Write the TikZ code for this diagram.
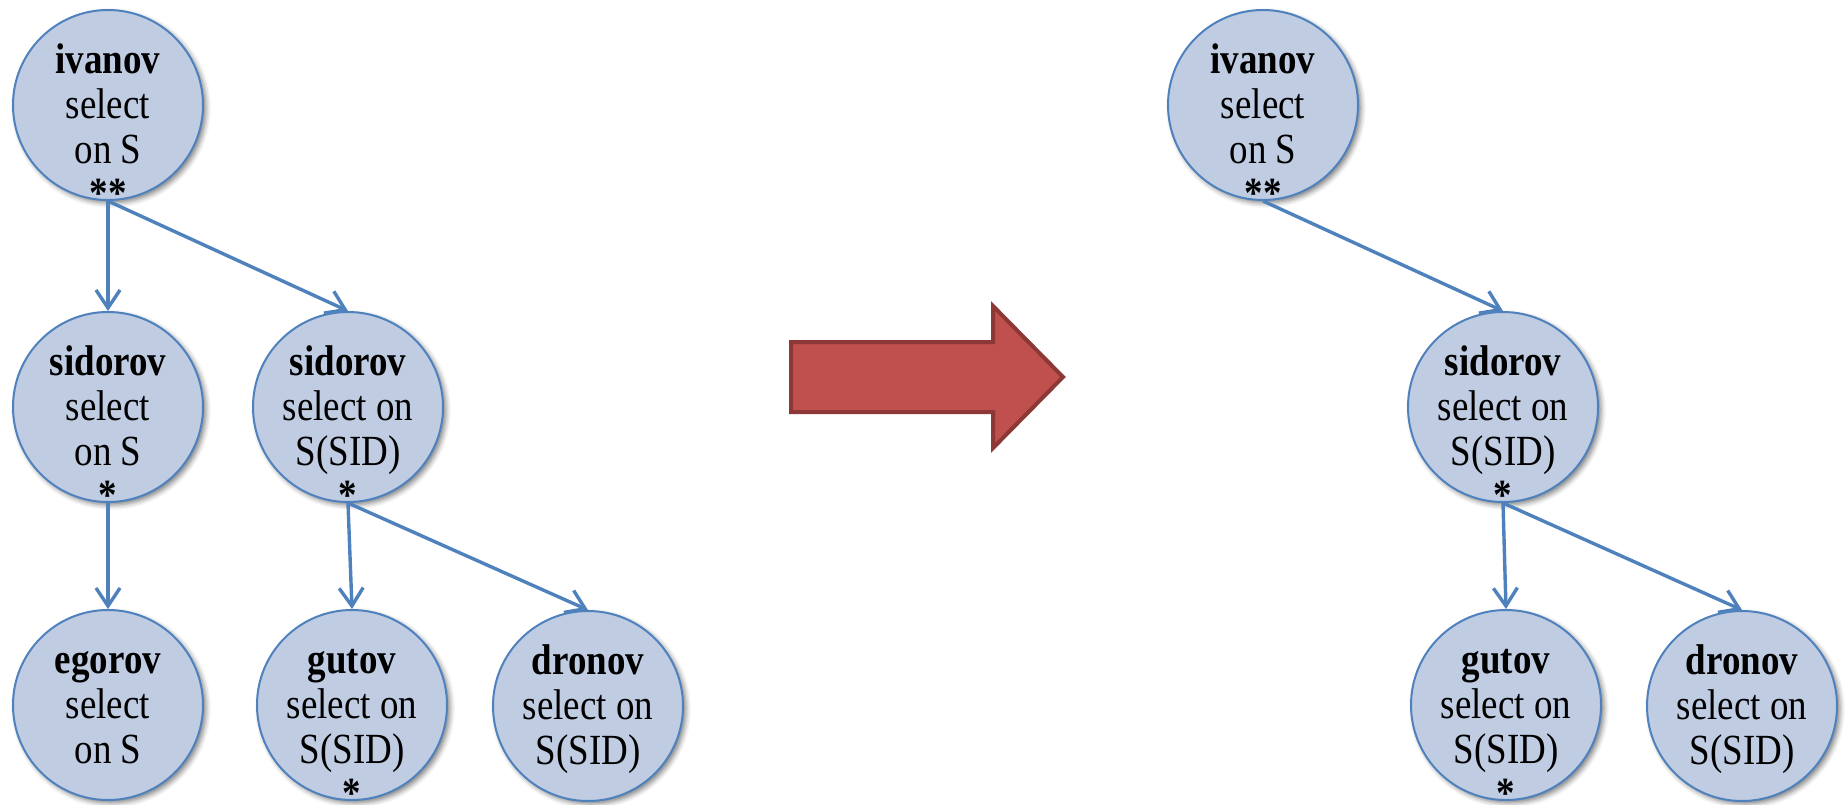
\documentclass[tikz,border=0pt]{standalone}
\usepackage{fontspec}
\setmainfont[FakeStretch=0.86]{Liberation Serif}
\usetikzlibrary{arrows.meta,shadows.blur}

\definecolor{nodefill}{RGB}{192,204,226}
\definecolor{nodeline}{RGB}{79,129,189}
\definecolor{bigfill}{RGB}{192,80,77}
\definecolor{bigline}{RGB}{140,56,54}

\begin{document}
\begin{tikzpicture}[x=0.5pt,y=-0.5pt,
  person/.style={circle, minimum size=95pt, inner sep=0pt,
    draw=nodeline, line width=1pt, fill=nodefill,
    blur shadow={shadow xshift=1.5pt, shadow yshift=-1.5pt,
      shadow blur radius=2.5pt, shadow opacity=50}},
  caption/.style={anchor=north, inner sep=0pt, align=center,
    font=\fontsize{21.5}{22.3}\selectfont},
  link/.style={draw=nodeline, line width=1.7pt,
    -{Straight Barb[length=9pt,width=12pt,line width=1.7pt]}},
  bigarrow/.style={fill=bigfill, draw=bigline, line width=2pt, line join=miter}]

\useasboundingbox (0,0) rectangle (1845,804);

% ---- left tree ----
\node[person] (iv)  at (108,105) {};
\node[person] (sdA) at (108,407) {};
\node[person] (sdB) at (348,407) {};
\node[person] (eg)  at (108,705) {};
\node[person] (gu)  at (352,705) {};
\node[person] (dr)  at (588,706) {};

\node[caption] (iv-t)  at ([yshift=31.36pt]iv.center)  {\strut\textbf{ivanov}\\select\\on S\\\textbf{**}};
\node[caption] (sdA-t) at ([yshift=31.36pt]sdA.center) {\strut\textbf{sidorov}\\select\\on S\\\textbf{*}};
\node[caption] (sdB-t) at ([yshift=31.36pt]sdB.center) {\strut\textbf{sidorov}\\select on\\S(SID)\\\textbf{*}};
\node[caption] (eg-t)  at ([yshift=31.36pt]eg.center)  {\strut\textbf{egorov}\\select\\on S};
\node[caption] (gu-t)  at ([yshift=31.36pt]gu.center)  {\strut\textbf{gutov}\\select on\\S(SID)\\\textbf{*}};
\node[caption] (dr-t)  at ([yshift=31.36pt]dr.center)  {\strut\textbf{dronov}\\select on\\S(SID)};

\draw[link] (iv.south)  -- (sdA.north);
\draw[link] (iv.south)  -- (sdB.north);
\draw[link] (sdA.south) -- (eg.north);
\draw[link] (sdB.south) -- (gu.north);
\draw[link] (sdB.south) -- (dr.north);

% ---- block arrow ----
\draw[bigarrow] (791,342) -- (993,342) -- (993,306) -- (1063,377)
  -- (993,448) -- (993,412) -- (791,412) -- cycle;

% ---- right tree ----
\node[person] (iv2) at (1263,105) {};
\node[person] (sd2) at (1503,407) {};
\node[person] (gu2) at (1506,705) {};
\node[person] (dr2) at (1742,706) {};

\node[caption] (iv2-t) at ([yshift=31.36pt]iv2.center) {\strut\textbf{ivanov}\\select\\on S\\\textbf{**}};
\node[caption] (sd2-t) at ([yshift=31.36pt]sd2.center) {\strut\textbf{sidorov}\\select on\\S(SID)\\\textbf{*}};
\node[caption] (gu2-t) at ([yshift=31.36pt]gu2.center) {\strut\textbf{gutov}\\select on\\S(SID)\\\textbf{*}};
\node[caption] (dr2-t) at ([yshift=31.36pt]dr2.center) {\strut\textbf{dronov}\\select on\\S(SID)};

\draw[link] (iv2.south) -- (sd2.north);
\draw[link] (sd2.south) -- (gu2.north);
\draw[link] (sd2.south) -- (dr2.north);

\end{tikzpicture}
\end{document}
